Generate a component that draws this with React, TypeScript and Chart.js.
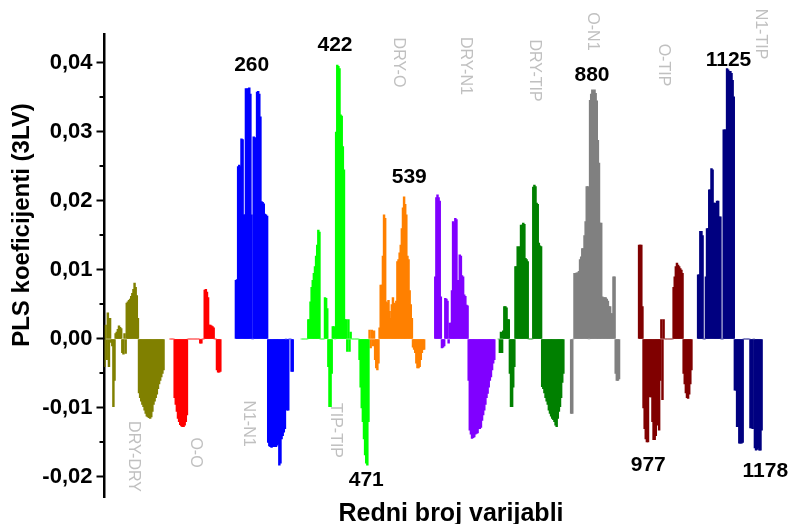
import React, { useEffect, useRef } from 'react';
import { Chart, registerables } from 'chart.js';

Chart.register(...registerables);

// ---------- data ----------
const blockNames = ['DRY-DRY', 'O-O', 'N1-N1', 'TIP-TIP', 'DRY-O', 'DRY-N1', 'DRY-TIP', 'O-N1', 'O-TIP', 'N1-TIP'];
const blockColors = ['#808000', '#ff0000', '#0000ff', '#00ff00', '#ff8000', '#8000ff', '#008000', '#808080', '#800000', '#000080'];
// index of the first value in each block (values are listed for every 2nd variable)
const blockStarts = [0, 118, 236, 354, 476, 594, 708, 838, 960, 1066];
const STEP = 2;

const dryDry = [-0.004, 0.002, -0.003, 0.0038, -0.004, 0.003, -0.0005, -0.001, -0.0098, -0.006, 0.0008, 0.001, 0.0014, 0.0019, 0.0017, 0.0015, -0.002, -0.0022, 0.0008, -0.0021, 0.0052, 0.0054, 0.0056, 0.0058, 0.0062, 0.0066, 0.0072, 0.0081, 0.0075, 0.0063, 0.003, -0.0078, -0.0085, -0.009, -0.0095, -0.0098, -0.0103, -0.0108, -0.0112, -0.0113, -0.0114, -0.0115, -0.0113, -0.0105, -0.0095, -0.009, -0.0085, -0.008, -0.0072, -0.0065, -0.006, -0.0055, -0.005, -0.0045];
const oO = [0, 0, 0, 0, -0.0085, -0.0095, -0.0105, -0.0115, -0.012, -0.0124, -0.0126, -0.0127, -0.0127, -0.0125, -0.012, -0.011, 0, 0, 0, 0, 0, 0, 0, 0, 0, 0, 0, -0.0006, -0.0006, 0, 0, 0.0071, 0.0072, 0.0068, 0.006, 0.002, 0.002, 0.0019, 0.0018, 0.0016, 0, 0, -0.0045, -0.0048, -0.0048, -0.0047];
const n1N1 = [0.0085, 0.0086, 0.025, 0.0252, 0.025, 0.029, 0.0289, 0.018, 0.018, 0.0363, 0.0362, 0.0363, 0.0364, 0.0355, 0.018, 0, 0.0293, 0.029, 0.0292, 0.0358, 0.0359, 0.0355, 0.0322, 0.0199, 0.0198, 0.0196, 0.0181, 0.018, 0.0178, -0.015, -0.0155, -0.0156, -0.0157, -0.0156, -0.0156, -0.0155, -0.0156, -0.0154, -0.0152, -0.0183, -0.018, -0.0145, -0.014, -0.0135, -0.013, 0, -0.0103, -0.0103, 0, 0, -0.0047, -0.0047];
const tipTip = [0, 0, 0, 0, 0, 0, 0.0028, 0.0028, 0.0054, 0.0075, 0.0085, 0.0095, 0.0105, 0.012, 0.0136, 0.0158, 0.0155, 0, 0, 0, 0, 0.006, 0.0059, 0.0044, -0.004, -0.0098, -0.0098, -0.005, 0.0018, 0.0018, 0, 0.03, 0.0397, 0.0395, 0.0392, 0.0325, 0.0323, 0.0279, 0.0245, 0.0028, 0.0028, -0.0018, 0.0028, -0.0018, 0.001, 0, 0, 0, 0, 0, 0, 0, -0.003, -0.007, -0.01, -0.012, -0.0145, -0.0168, -0.018, -0.0183, -0.012];
const dryO = [0.0013, -0.0013, 0.0013, -0.001, 0.0012, -0.003, -0.0042, -0.0045, -0.0035, 0.0016, 0.0078, 0.0078, 0.012, 0.018, 0.0175, 0.0054, 0.0052, 0.0056, 0.004, 0.003, 0.005, 0.006, 0.0052, 0.005, 0.0055, 0.0112, 0.0115, 0.0125, 0.0136, 0.016, 0.019, 0.0206, 0.0195, 0.018, 0.012, 0.0115, 0.007, 0.005, 0.003, -0.0012, -0.0015, -0.002, -0.0035, -0.0042, -0.0042, -0.004, -0.003, -0.002, -0.0015, -0.0015];
const dryN1 = [0.009, 0.0205, 0.0209, 0.0205, 0.02, 0.0061, -0.0013, -0.0012, -0.001, 0.0059, 0.0058, 0.0055, -0.0006, 0.0023, 0.0023, 0.007, 0.017, 0.0168, 0.0175, 0.0173, 0.0085, 0.0085, 0.0122, 0.012, 0.0092, 0.009, 0.0064, 0.0062, 0.0049, 0.0048, -0.006, -0.0132, -0.0138, -0.0144, -0.0143, -0.0142, -0.0138, -0.0137, -0.0136, -0.013, -0.013, -0.0128, -0.0118, -0.011, -0.0103, -0.0095, -0.0085, -0.0079, -0.007, -0.006, -0.0055, -0.0045, -0.0035, -0.003];
const dryTip = [0, -0.002, 0.001, -0.002, 0.0012, 0.0047, 0.0047, 0.0045, 0.0028, 0.0028, -0.005, -0.0098, -0.0098, -0.007, -0.004, 0.0105, 0.0105, 0.0134, 0.0133, 0.0134, 0.0165, 0.0165, 0.0168, 0.0166, 0.0117, 0.0115, 0.0112, 0, 0, 0, 0, 0.022, 0.0223, 0.0221, 0.0197, 0.0195, 0.0139, 0.0135, 0.0134, -0.0069, -0.0072, -0.0078, -0.0085, -0.009, -0.0095, -0.0103, -0.0108, -0.0112, -0.0115, -0.0117, -0.012, -0.0125, -0.0127, -0.0115, -0.0105, -0.0098, -0.0085, -0.0063, -0.005];
const oN1 = [-0.0108, -0.0108, 0, 0.0095, 0.0095, 0.0096, 0.0096, 0.0098, 0.0115, 0.0119, 0.0131, 0.0131, 0.015, 0.017, 0.0221, 0.0221, 0, 0.0346, 0.0355, 0.0361, 0.036, 0.0361, 0.0356, 0.0345, 0.0288, 0.0255, 0.0168, 0.0168, 0.0061, 0.006, 0.006, 0.006, 0.0058, 0.0055, 0.0047, 0.0047, 0.0037, 0.0037, 0.009, 0.009, -0.005, -0.006, -0.006, -0.0058];
const oTip = [0.0136, 0.0136, 0.0136, 0.0047, -0.01, -0.013, -0.0145, -0.0149, -0.0149, -0.006, -0.0084, -0.0084, -0.012, -0.0146, -0.0146, -0.014, -0.0108, -0.0125, -0.0132, -0.006, 0.0028, -0.0088, 0.0028, 0, 0, 0, 0, 0, 0, 0, 0, 0.0075, 0.009, 0.0105, 0.011, 0.0107, 0.0105, 0.0102, 0.01, 0.0095, -0.005, -0.0065, -0.0078, -0.0085, -0.0086, -0.008, -0.0065, -0.0045];
const n1Tip = [0.0093, 0.0093, 0.0156, 0.0156, 0.015, 0, 0, 0.009, 0.016, 0.016, 0.0216, 0.0216, 0.0247, 0.0245, 0.0197, 0.0197, 0.008, 0.02, 0.02, 0.0177, 0.0177, 0, 0, 0.0303, 0.0303, 0.0303, 0.0392, 0.039, 0.0388, 0.0388, 0.0385, 0.0375, 0.0351, -0.0074, -0.0074, -0.0127, -0.0127, -0.0151, -0.0151, -0.0151, -0.015, 0, 0, 0, 0, 0, 0, -0.0129, -0.0129, -0.013, 0, -0.0158, -0.0161, -0.016, -0.0158, -0.0161, -0.0161, -0.0132];

const blockValues = [dryDry, oO, n1N1, tipTip, dryO, dryN1, dryTip, oN1, oTip, n1Tip];

const yTickValues = [-0.02, -0.01, 0, 0.01, 0.02, 0.03, 0.04];
const yMinorTickValues = [-0.015, -0.005, 0.005, 0.015, 0.025, 0.035];

const peakLabelText = ['260', '422', '539', '880', '1125', '471', '977', '1178'];
const peakLabelX = [264.3, 413.9, 547.3, 875.4, 1120.5, 470.1, 976.5, 1186.7];
const peakLabelY = [0.0397, 0.0426, 0.0235, 0.0383, 0.0404, -0.0204, -0.0183, -0.0191];

const groupLabelX = [52.1, 162.5, 258.6, 413.9, 527.9, 647.3, 772.1, 875.4, 1002.9, 1177.9];
const groupLabelY = [-0.01703, -0.01645, -0.01225, -0.01326, 0.04007, 0.03957, 0.03891, 0.04457, 0.03971, 0.0442];

const X_MIN = 0;
const X_MAX = 1231;
const Y_MIN = -0.0229;
const Y_MAX = 0.0442;

const FONT = "'Liberation Sans', Arial, sans-serif";

const overlayPlugin = {
  id: 'overlay',
  afterDraw(chart: any) {
    const { ctx, chartArea, scales } = chart;
    const xs = scales.x;
    const ys = scales.y;
    ctx.save();
    // minor ticks
    ctx.strokeStyle = '#000';
    ctx.lineWidth = 2;
    yMinorTickValues.forEach((v) => {
      const py = Math.round(ys.getPixelForValue(v));
      ctx.beginPath();
      ctx.moveTo(chartArea.left - 5, py);
      ctx.lineTo(chartArea.left, py);
      ctx.stroke();
    });
    // peak labels
    ctx.fillStyle = '#000';
    ctx.font = `bold 21px ${FONT}`;
    ctx.textAlign = 'center';
    ctx.textBaseline = 'middle';
    peakLabelText.forEach((t, i) => {
      ctx.fillText(t, xs.getPixelForValue(peakLabelX[i]), ys.getPixelForValue(peakLabelY[i]));
    });
    // group labels (rotated)
    ctx.fillStyle = '#c0c0c0';
    ctx.font = `16px ${FONT}`;
    blockNames.forEach((name, i) => {
      ctx.save();
      ctx.translate(xs.getPixelForValue(groupLabelX[i]), ys.getPixelForValue(groupLabelY[i]));
      ctx.rotate(Math.PI / 2);
      ctx.fillText(name, 0, 0);
      ctx.restore();
    });
    // axis titles
    ctx.fillStyle = '#000';
    ctx.font = `bold 24px ${FONT}`;
    ctx.save();
    ctx.translate(22.5, 225);
    ctx.rotate(-Math.PI / 2);
    ctx.fillText('PLS koeficijenti (3LV)', 0, 0);
    ctx.restore();
    ctx.font = `bold 25px ${FONT}`;
    ctx.textBaseline = 'alphabetic';
    ctx.fillText('Redni broj varijabli', 451, 521);
    ctx.restore();
  },
};

export default function App() {
  const canvasRef = useRef<HTMLCanvasElement | null>(null);

  useEffect(() => {
    const canvas = canvasRef.current;
    if (!canvas) return;
    const datasets = blockNames.map((name, b) => ({
      label: name,
      data: blockValues[b].map((v, i) => ({ x: blockStarts[b] + i * STEP, y: v })),
      backgroundColor: blockColors[b],
      borderWidth: 0,
      barThickness: 1.8,
      grouped: false,
    }));
    const chart = new Chart(canvas, {
      type: 'bar',
      data: { datasets } as any,
      options: {
        animation: false,
        responsive: false,
        devicePixelRatio: 1,
        layout: { padding: { top: 34, bottom: 27, left: 0, right: 0 } },
        plugins: {
          legend: { display: false },
          tooltip: { enabled: false },
        },
        scales: {
          x: {
            type: 'linear',
            min: X_MIN,
            max: X_MAX,
            offset: false,
            display: false,
          },
          y: {
            type: 'linear',
            min: Y_MIN,
            max: Y_MAX,
            afterFit: (s: any) => {
              s.width = 104.5;
            },
            afterBuildTicks: (s: any) => {
              s.ticks = yTickValues.map((v) => ({ value: v }));
            },
            ticks: {
              color: '#000',
              padding: 4,
              font: { family: FONT, size: 22, weight: 'bold' },
              callback: (v: any) => Number(v).toFixed(2).replace('.', ','),
            },
            grid: {
              display: true,
              drawOnChartArea: false,
              drawTicks: true,
              tickLength: 8,
              tickWidth: 2,
              tickColor: '#000',
            },
            border: { display: true, color: '#000', width: 2.5 },
          },
        },
      } as any,
      plugins: [overlayPlugin],
    });
    return () => chart.destroy();
  }, []);

  return (
    <div style={{ position: 'fixed', left: 0, top: 0, width: 790, height: 524, background: '#fff' }}>
      <canvas ref={canvasRef} width={790} height={524} style={{ display: 'block' }} />
    </div>
  );
}
